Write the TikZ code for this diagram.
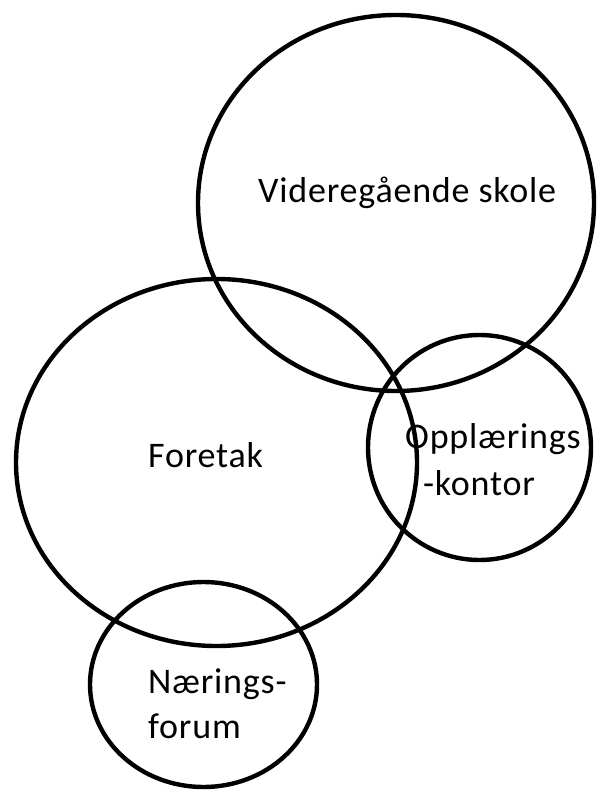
\documentclass[tikz,border=0pt]{standalone}
\usepackage{fontspec}
\setmainfont[LetterSpace=2.2]{Carlito}
\begin{document}
\begin{tikzpicture}[x=1pt,y=-1pt,
  ring/.style={draw=black,line width=4.4pt},
  lbl/.style={inner sep=0pt,anchor=base west,font=\fontsize{36}{46}\selectfont,text=black}]
\useasboundingbox (0,0) rectangle (597,791);
\draw[ring] (396,203) ellipse [x radius=198, y radius=188];
\draw[ring] (216.5,462.5) ellipse [x radius=200.5, y radius=183.5];
\draw[ring] (479.5,447.5) ellipse [x radius=111.5, y radius=112.5];
\draw[ring] (203.5,684.5) ellipse [x radius=113.5, y radius=102.5];
\node[lbl] (vgs) at (258,203) {Videregående skole};
\node[lbl] (for) at (148,467) {Foretak};
\node[lbl] (opp1) at (405,448) {Opplærings};
\node[lbl] (opp2) at (423,495) {-kontor};
\node[lbl] (nf1) at (148,693) {Nærings-};
\node[lbl] (nf2) at (148,738) {forum};
\end{tikzpicture}
\end{document}
